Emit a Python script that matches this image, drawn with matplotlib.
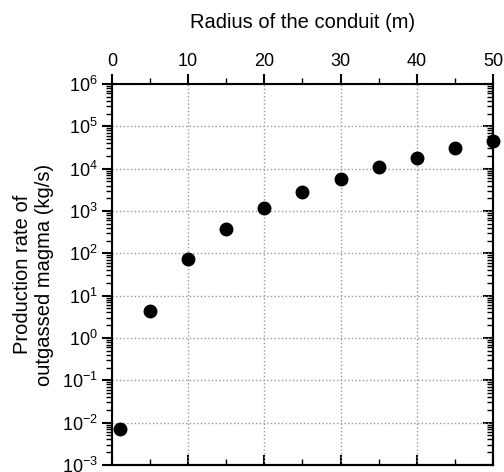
import matplotlib
matplotlib.use('Agg')
import matplotlib.pyplot as plt
import numpy as np
from matplotlib.ticker import LogLocator, NullFormatter, MultipleLocator

plt.rcParams['font.family'] = ['Liberation Sans', 'DejaVu Sans']
plt.rcParams['mathtext.default'] = 'regular'
plt.rcParams['axes.unicode_minus'] = False

# conduit radius (m) and production rate of outgassed magma (kg/s)
radius = [1, 5, 10, 15, 20, 25, 30, 35, 40, 45, 50]
rate = [0.0072, 4.4, 72, 370, 1150, 2800, 5800, 10700, 17800, 30000, 46000]

fig = plt.figure(figsize=(5.04, 4.72), dpi=100)
ax = fig.add_axes([0.222, 0.015, 0.756, 0.807])

ax.plot(radius, rate, 'o', color='black', ms=9, zorder=5, clip_on=False)

ax.set_yscale('log')
ax.set_xlim(0, 50)
ax.set_ylim(1e-3, 1e6)

# top x axis with outward ticks
ax.xaxis.set_ticks_position('top')
ax.xaxis.set_label_position('top')
ax.xaxis.set_major_locator(MultipleLocator(10))
ax.xaxis.set_minor_locator(MultipleLocator(5))
ax.yaxis.set_major_locator(LogLocator(base=10, numticks=20))
ax.yaxis.set_minor_locator(LogLocator(base=10, subs=np.arange(2, 10), numticks=20))
ax.yaxis.set_minor_formatter(NullFormatter())
ax.tick_params(which='major', direction='out', length=7, width=1.5, labelsize=13, pad=3)
ax.tick_params(which='minor', direction='out', length=4, width=1)

# bottom and right: inward ticks, no labels
sx = ax.secondary_xaxis('bottom')
sx.xaxis.set_major_locator(MultipleLocator(10))
sx.xaxis.set_minor_locator(MultipleLocator(5))
sx.tick_params(which='major', direction='in', length=7, width=1.5, labelbottom=False)
sx.tick_params(which='minor', direction='in', length=4, width=1)
sx.spines['bottom'].set_linewidth(1.5)

sy = ax.secondary_yaxis('right')
sy.set_yscale('log')
sy.yaxis.set_major_locator(LogLocator(base=10, numticks=20))
sy.yaxis.set_minor_locator(LogLocator(base=10, subs=np.arange(2, 10), numticks=20))
sy.yaxis.set_minor_formatter(NullFormatter())
sy.tick_params(which='major', direction='in', length=7, width=1.5, labelright=False)
sy.tick_params(which='minor', direction='in', length=4, width=1)
sy.spines['right'].set_linewidth(1.5)

for side in ['top', 'bottom', 'left', 'right']:
    ax.spines[side].set_linewidth(1.5)

ax.grid(True, which='major', linestyle=':', color='#9a9a9a', linewidth=1)

ax.set_xlabel('Radius of the conduit (m)', fontsize=14.5, labelpad=18)
ax.set_ylabel('Production rate of\noutgassed magma (kg/s)', fontsize=14.5, labelpad=6)

fig.savefig('out.png', dpi=100)
